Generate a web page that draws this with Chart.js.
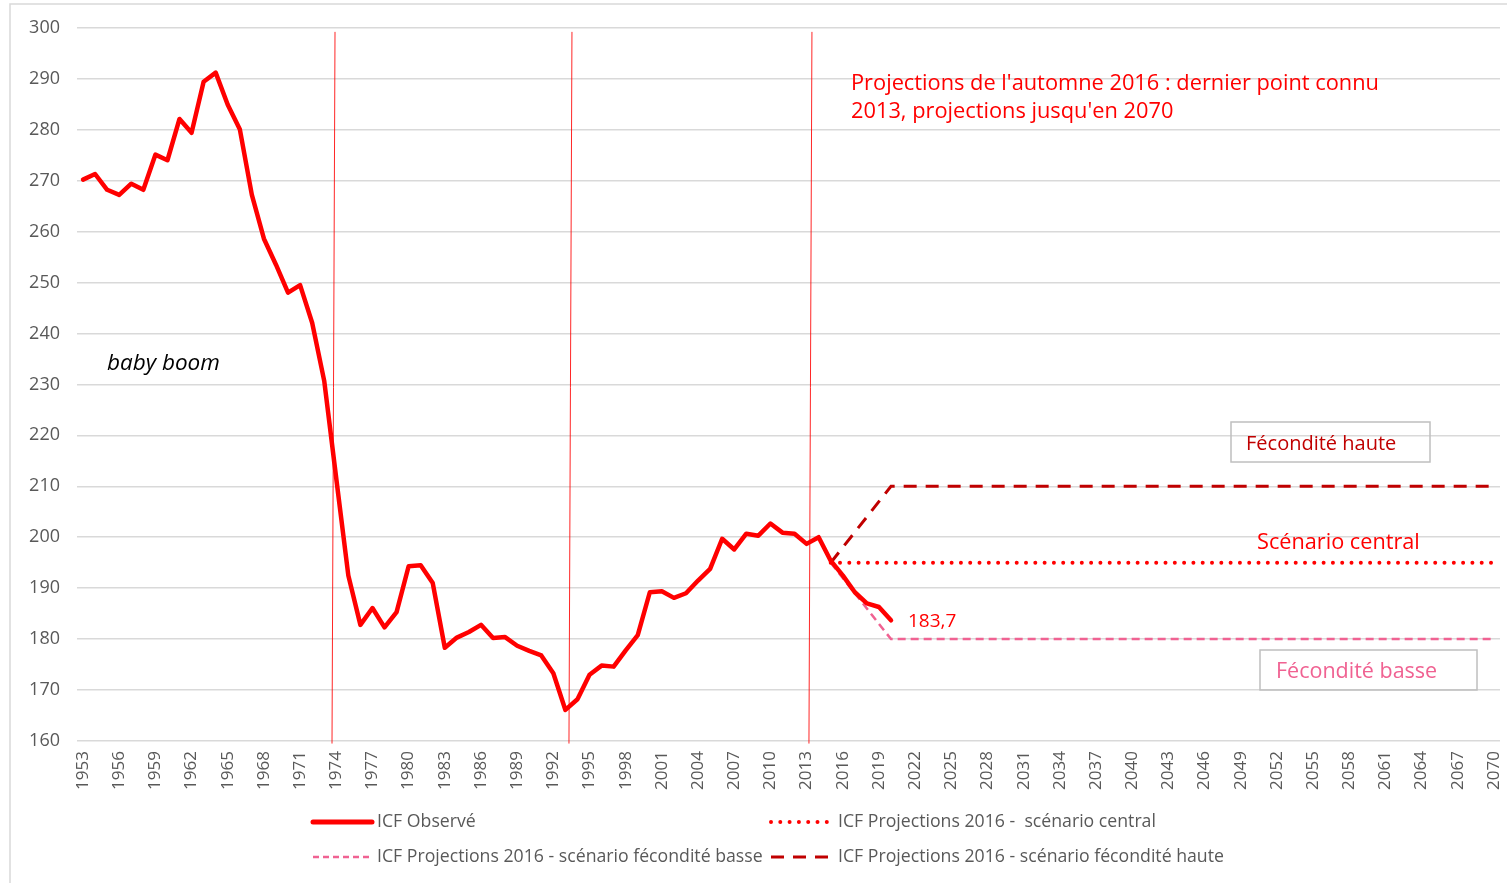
<!DOCTYPE html>
<html>
<head>
<meta charset="utf-8">
<script src="https://cdn.jsdelivr.net/npm/chart.js@4.4.1/dist/chart.umd.min.js"></script>
<style>
  html, body { margin: 0; padding: 0; background: #fff; }
  #wrap { position: absolute; left: 0; top: 0; width: 1507px; height: 883px; }
</style>
</head>
<body>
<div id="wrap"><canvas id="c" width="1507" height="883"></canvas></div>
<script>
// ---------- DATA ----------
const years = [
 '1953','1954','1955','1956','1957','1958','1959','1960','1961','1962',
 '1963','1964','1965','1966','1967','1968','1969','1970','1971','1972',
 '1973','1974','1975','1976','1977','1978','1979','1980','1981','1982',
 '1983','1984','1985','1986','1987','1988','1989','1990','1991','1992',
 '1993','1994','1995','1996','1997','1998','1999','2000','2001','2002',
 '2003','2004','2005','2006','2007','2008','2009','2010','2011','2012',
 '2013','2014','2015','2016','2017','2018','2019','2020','2021','2022',
 '2023','2024','2025','2026','2027','2028','2029','2030','2031','2032',
 '2033','2034','2035','2036','2037','2038','2039','2040','2041','2042',
 '2043','2044','2045','2046','2047','2048','2049','2050','2051','2052',
 '2053','2054','2055','2056','2057','2058','2059','2060','2061','2062',
 '2063','2064','2065','2066','2067','2068','2069','2070'
];

// ICF observé 1953 -> 2020
const observed = [
 270.2, 271.3, 268.2, 267.2, 269.4, 268.2, 275.1, 274.0, 282.1, 279.4,
 289.4, 291.2, 284.9, 280.1, 267.2, 258.6, 253.5, 248.0, 249.5, 242.1,
 230.7, 211.5, 192.5, 182.8, 186.1, 182.3, 185.3, 194.3, 194.5, 191.0,
 178.3, 180.3, 181.4, 182.8, 180.2, 180.4, 178.7, 177.7, 176.8, 173.3,
 166.1, 168.2, 173.0, 174.8, 174.6, 177.8, 180.8, 189.2, 189.4, 188.1,
 189.0, 191.5, 193.8, 199.7, 197.6, 200.7, 200.3, 202.7, 200.9, 200.7,
 198.7, 200.0, 195.4, 192.5, 189.2, 187.0, 186.3, 183.7
];

// Projections 2016 (break points)
const centralYears = ['2015', '2070'];
const centralValues = [195, 195];
const lowYears = ['2015', '2020', '2070'];
const lowValues = [195, 180, 180];
const highYears = ['2015', '2020', '2070'];
const highValues = [195, 210, 210];

// Vertical reference lines (years, fractional category positions)
const markerYears = [1973.77, 1993.42, 2013.32];

const yTicks = { min: 160, max: 300, step: 10 };

const seriesNames = [
  'ICF Observé',
  'ICF Projections 2016 -  scénario central',
  'ICF Projections 2016 - scénario fécondité basse',
  'ICF Projections 2016 - scénario fécondité haute'
];

// ---------- CHART ----------
const RED = '#ff0000', DARKRED = '#c00000', PINK = '#f06292';
const FONT = '"Open Sans", Lato, sans-serif';

const toPts = (xs, ys) => xs.map((x, i) => ({ x: x, y: ys[i] }));

const frame = {
  id: 'frame',
  beforeDraw(chart) {
    const ctx = chart.ctx;
    ctx.save();
    ctx.fillStyle = '#fff';
    ctx.fillRect(0, 0, chart.width, chart.height);
    ctx.strokeStyle = '#d9d9d9';
    ctx.lineWidth = 1.5;
    ctx.beginPath();
    ctx.moveTo(10, 883); ctx.lineTo(10, 4); ctx.lineTo(1507, 4);
    ctx.stroke();
    ctx.restore();
  }
};

const markers = {
  id: 'markers',
  beforeDatasetsDraw(chart) {
    const { ctx, scales: { x, y } } = chart;
    ctx.save();
    ctx.strokeStyle = 'rgba(255,0,0,0.85)';
    ctx.lineWidth = 1;
    markerYears.forEach(yr => {
      const px = x.getPixelForValue(yr - 1953);
      ctx.beginPath();
      ctx.moveTo(px + 1.5, y.getPixelForValue(299.2));
      ctx.lineTo(px - 1.5, y.getPixelForValue(159.5));
      ctx.stroke();
    });
    ctx.restore();
  }
};

const annotations = {
  id: 'annotations',
  afterDatasetsDraw(chart) {
    const { ctx } = chart;
    ctx.save();
    ctx.textBaseline = 'middle';
    ctx.textAlign = 'left';

    // baby boom
    ctx.font = 'italic 22.5px ' + FONT;
    ctx.fillStyle = '#000';
    ctx.fillText('baby boom', 107, 364);

    // projection note
    ctx.font = '21.8px ' + FONT;
    ctx.fillStyle = RED;
    ctx.fillText("Projections de l'automne 2016 : dernier point connu", 851, 84);
    ctx.fillText("2013, projections jusqu'en 2070", 851, 112);

    // Fécondité haute box
    ctx.strokeStyle = '#bfbfbf';
    ctx.lineWidth = 1.5;
    ctx.strokeRect(1231, 422, 199, 40);
    ctx.font = '20px ' + FONT;
    ctx.fillStyle = DARKRED;
    ctx.fillText('Fécondité haute', 1246, 444);

    // Scénario central
    ctx.font = '21.7px ' + FONT;
    ctx.fillStyle = RED;
    ctx.fillText('Scénario central', 1257, 543);

    // Fécondité basse box
    ctx.strokeRect(1260, 650, 217, 40);
    ctx.font = '21.5px ' + FONT;
    ctx.fillStyle = PINK;
    ctx.fillText('Fécondité basse', 1276, 672);

    // data label of last observed point
    const meta = chart.getDatasetMeta(0);
    const last = meta.data[meta.data.length - 1];
    ctx.font = '19px ' + FONT;
    ctx.fillStyle = RED;
    ctx.fillText(String(observed[observed.length - 1]).replace('.', ','), last.x + 17, last.y + 1);

    // custom legend
    const rows = [
      { ds: 0, sx: 313, tx: 377, y: 822, dash: [] , w: 5 },
      { ds: 1, sx: 771, tx: 838, y: 822, dash: [0, 9.3], w: 4 },
      { ds: 2, sx: 313, tx: 377, y: 857, dash: [6, 4], w: 2.5 },
      { ds: 3, sx: 771, tx: 838, y: 857, dash: [13, 9], w: 3 }
    ];
    rows.forEach(r => {
      const d = chart.data.datasets[r.ds];
      ctx.save();
      ctx.strokeStyle = d.borderColor;
      ctx.lineWidth = r.w;
      ctx.lineCap = d.borderCapStyle || 'butt';
      ctx.setLineDash(r.dash);
      ctx.beginPath();
      ctx.moveTo(r.sx, r.y);
      ctx.lineTo(r.sx + 59, r.y);
      ctx.stroke();
      ctx.restore();
      ctx.font = '17.7px ' + FONT;
      ctx.fillStyle = '#595959';
      ctx.fillText(d.label, r.tx, r.y);
    });
    ctx.restore();
  }
};

new Chart(document.getElementById('c'), {
  type: 'line',
  data: {
    labels: years,
    datasets: [
      {
        label: seriesNames[0],
        data: observed,
        borderColor: RED,
        borderWidth: 4.5,
        borderCapStyle: 'round',
        borderJoinStyle: 'round',
        pointRadius: 0,
        tension: 0,
        order: 0
      },
      {
        label: seriesNames[1],
        data: toPts(centralYears, centralValues),
        borderColor: RED,
        borderWidth: 4,
        borderDash: [0, 9.3],
        borderCapStyle: 'round',
        pointRadius: 0,
        order: 1
      },
      {
        label: seriesNames[2],
        data: toPts(lowYears, lowValues),
        borderColor: PINK,
        borderWidth: 2.5,
        borderDash: [8, 5],
        pointRadius: 0,
        order: 2
      },
      {
        label: seriesNames[3],
        data: toPts(highYears, highValues),
        borderColor: DARKRED,
        borderWidth: 3,
        borderDash: [13, 9],
        pointRadius: 0,
        order: 3
      }
    ]
  },
  options: {
    responsive: false,
    animation: false,
    layout: { padding: { left: 10, top: 26, right: 7, bottom: 0 } },
    plugins: {
      legend: { display: false },
      tooltip: { enabled: false }
    },
    scales: {
      x: {
        type: 'category',
        offset: true,
        grid: { display: false, drawTicks: false },
        border: { display: false },
        ticks: {
          autoSkip: false,
          maxRotation: 90,
          minRotation: 90,
          padding: 10,
          color: '#595959',
          font: { family: FONT, size: 17 },
          callback: function (v, i) { return i % 3 === 0 ? this.getLabelForValue(v) : ''; }
        },
        afterFit: s => { s.height = 142; s.paddingLeft = 0; s.paddingRight = 0; }
      },
      y: {
        min: yTicks.min,
        max: yTicks.max,
        grid: { color: '#d9d9d9', lineWidth: 1.5, drawTicks: false },
        border: { display: false },
        ticks: {
          stepSize: yTicks.step,
          padding: 17,
          color: '#595959',
          font: { family: FONT, size: 18 }
        },
        afterFit: s => { s.width = 67; }
      }
    }
  },
  plugins: [frame, markers, annotations]
});
</script>
</body>
</html>
